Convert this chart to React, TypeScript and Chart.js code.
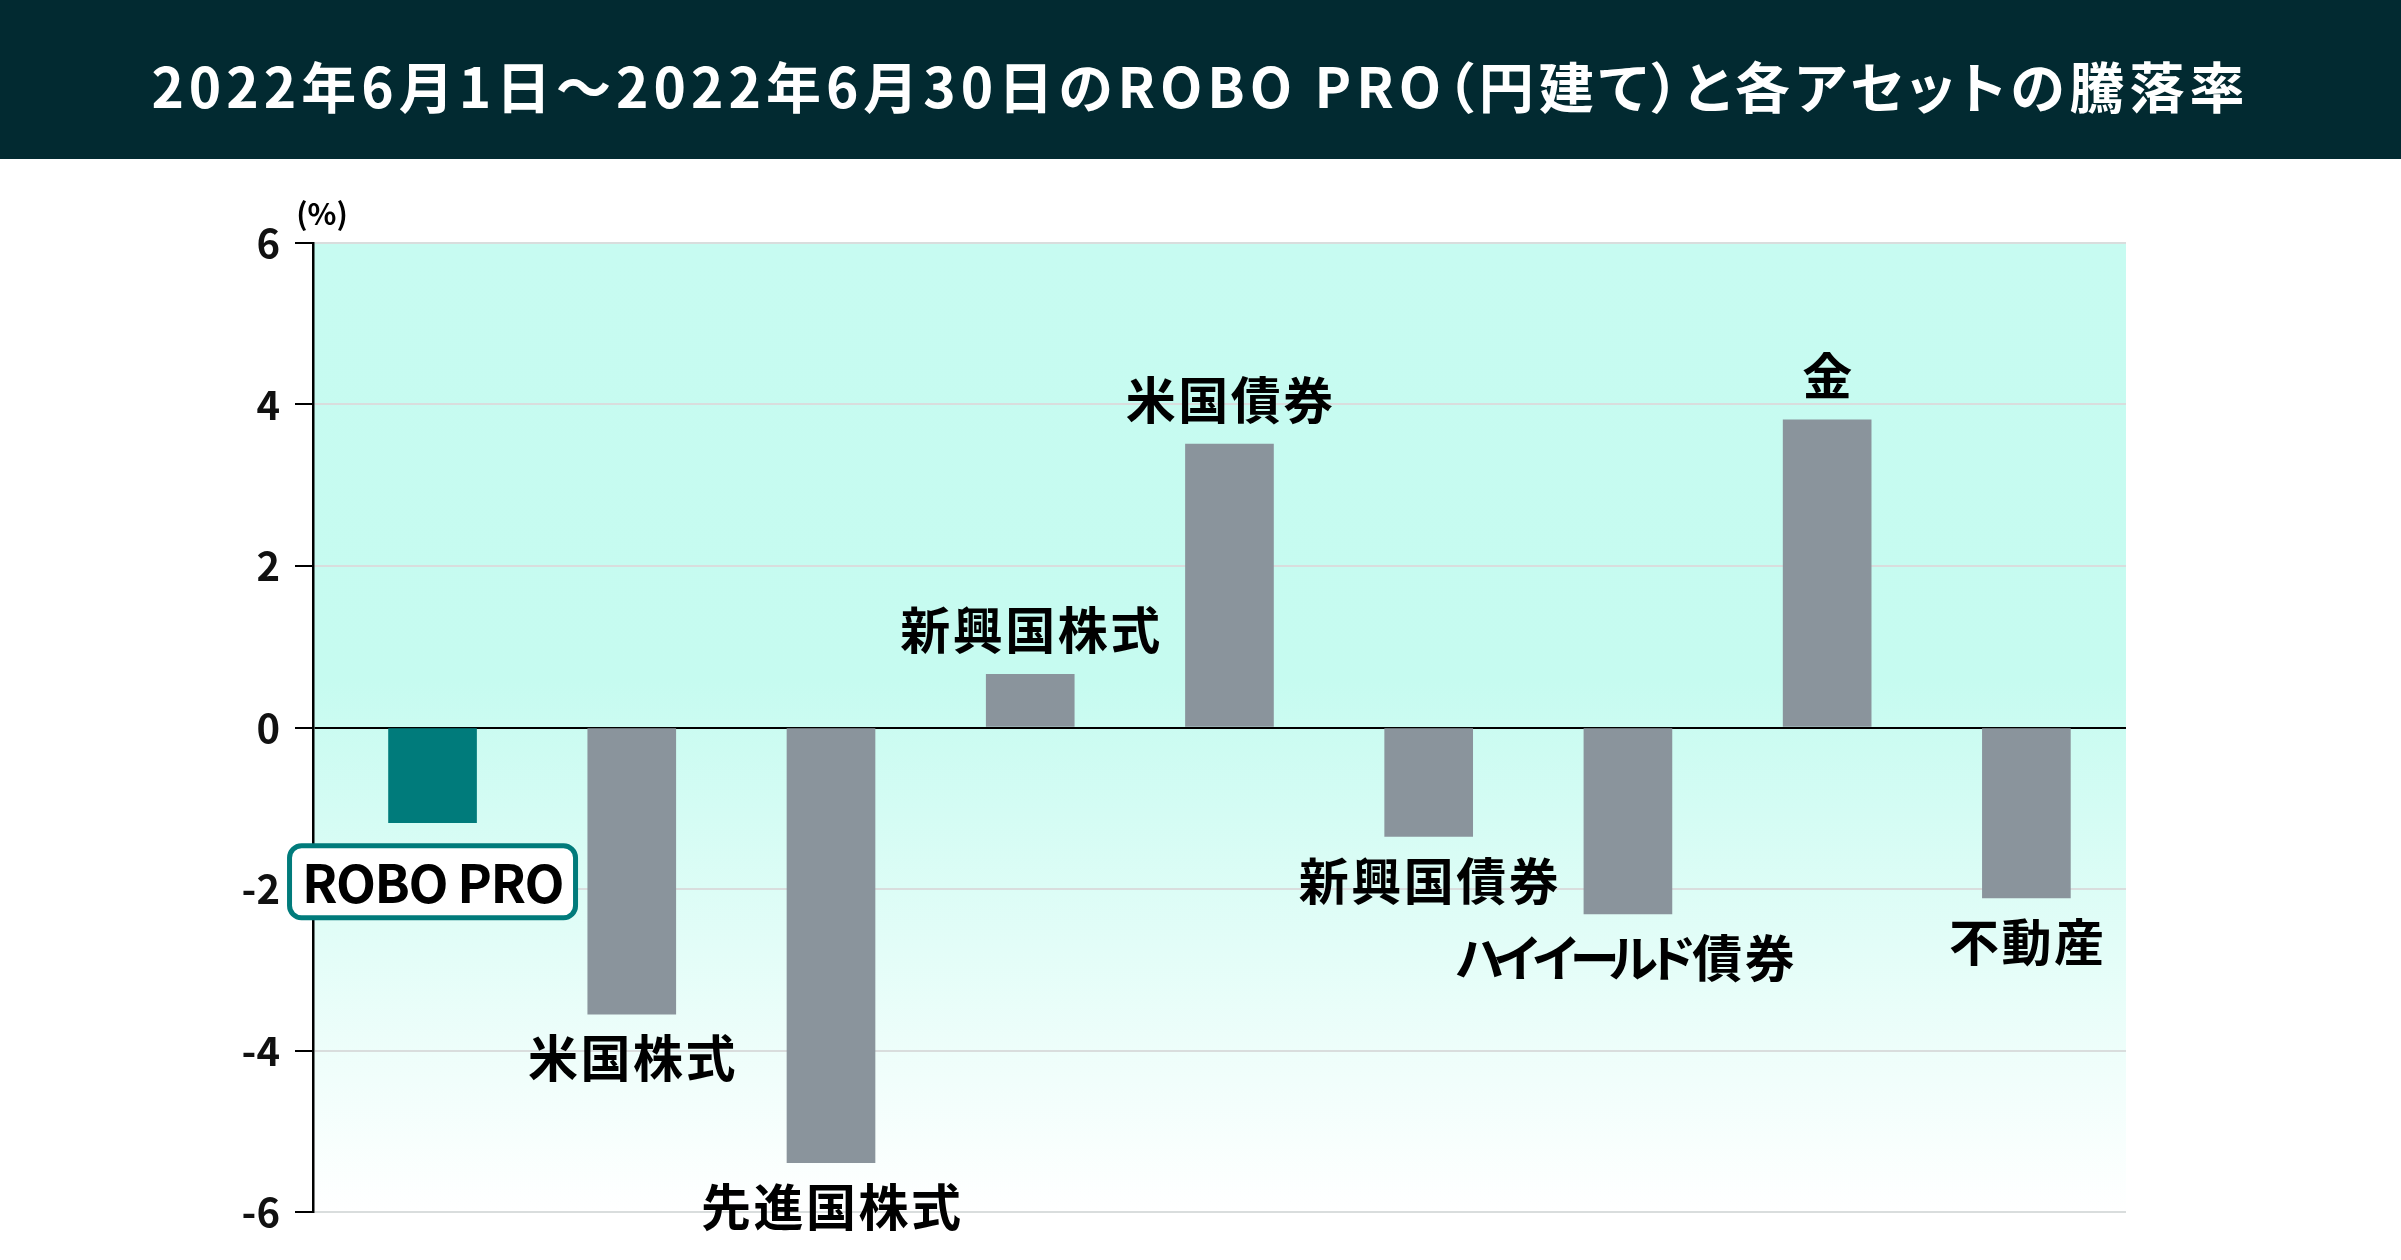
import React, { useEffect, useRef } from "react";
import { Chart, registerables } from "chart.js";

Chart.register(...registerables);

const titleText = "2022年6月1日～2022年6月30日のROBO PRO（円建て）と各アセットの騰落率";
const categories = ["ROBO PRO", "米国株式", "先進国株式", "新興国株式", "米国債券", "新興国債券", "ハイイールド債券", "金", "不動産"];
const values = [-1.18, -3.55, -5.39, 0.66, 3.51, -1.35, -2.31, 3.81, -2.11];
const yTicks = [-6, -4, -2, 0, 2, 4, 6];
const unitLabel = "(%)";

const TEAL = "#007b7b";
const GRAY = "#8a949c";
const CJK = '"Noto Sans CJK JP", "Noto Sans", sans-serif';

function isKana(ch: string) {
  const c = ch.charCodeAt(0);
  return c >= 0x30a0 && c <= 0x30ff;
}

function drawLabel(ctx: CanvasRenderingContext2D, text: string, cx: number, cy: number, size: number) {
  ctx.font = `700 ${size}px ${CJK}`;
  const chars = Array.from(text);
  const adv = chars.map((ch) => (isKana(ch) ? size * 0.77 : size * 1.05));
  const total = adv.reduce((a, b) => a + b, 0);
  let x = cx - total / 2;
  ctx.textAlign = "center";
  ctx.textBaseline = "middle";
  ctx.fillStyle = "#000";
  chars.forEach((ch, i) => {
    ctx.fillText(ch, x + adv[i] / 2, cy);
    x += adv[i];
  });
}

const bgPlugin = {
  id: "bgPlugin",
  beforeDraw(chart: any) {
    const { ctx, chartArea } = chart;
    const { left, right, top, bottom } = chartArea;
    const g = ctx.createLinearGradient(0, top, 0, bottom);
    g.addColorStop(0, "#c7fbf1");
    g.addColorStop(0.45, "#c6fbf0");
    g.addColorStop(1, "#ffffff");
    ctx.save();
    ctx.fillStyle = g;
    ctx.fillRect(left, top, right - left, bottom - top);
    ctx.restore();
  },
  afterDraw(chart: any) {
    const { ctx, chartArea } = chart;
    ctx.save();
    ctx.font = `700 30px ${CJK}`;
    ctx.fillStyle = "#000";
    ctx.textAlign = "center";
    ctx.textBaseline = "middle";
    ctx.fillText(unitLabel, chartArea.left + 9, chartArea.top - 29);

    const meta = chart.getDatasetMeta(0);
    meta.data.forEach((bar: any, i: number) => {
      const v = values[i];
      const name = categories[i];
      const endY = bar.y;
      if (i === 0) {
        const bw = 286, bh = 72;
        const cy = endY + 59;
        const bx = bar.x - bw / 2;
        const by = cy - bh / 2;
        ctx.beginPath();
        ctx.roundRect(bx, by, bw, bh, 12);
        ctx.fillStyle = "#ffffff";
        ctx.fill();
        ctx.lineWidth = 5;
        ctx.strokeStyle = TEAL;
        ctx.stroke();
        ctx.font = `700 52px ${CJK}`;
        ctx.fillStyle = "#000";
        ctx.textAlign = "center";
        ctx.textBaseline = "middle";
        (ctx as any).letterSpacing = "-1.5px";
        ctx.fillText(name, bar.x, cy + 1);
        (ctx as any).letterSpacing = "0px";
      } else {
        const cy = v >= 0 ? endY - 44 : endY + 44;
        drawLabel(ctx, name, bar.x, cy, 50);
      }
    });
    ctx.restore();
  },
};

export default function App() {
  const ref = useRef<HTMLCanvasElement | null>(null);

  useEffect(() => {
    document.body.style.margin = "0";
    const canvas = ref.current!;
    const chart = new Chart(canvas, {
      type: "bar",
      data: {
        datasets: [
          {
            data: values.map((v, i) => ({ x: i, y: v })),
            backgroundColor: values.map((_, i) => (i === 0 ? TEAL : GRAY)),
            borderWidth: 0,
            barThickness: 88,
          },
        ],
      },
      options: {
        responsive: false,
        maintainAspectRatio: false,
        animation: false,
        layout: { padding: { left: 0, top: 84, right: 275, bottom: 48 } },
        plugins: { legend: { display: false }, tooltip: { enabled: false } },
        scales: {
          x: { type: "linear", min: -0.6, max: 8.5, offset: false, display: false },
          y: {
            type: "linear",
            min: -6,
            max: 6,
            afterBuildTicks: (s: any) => {
              s.ticks = yTicks.map((v) => ({ value: v }));
            },
            afterFit: (s: any) => {
              s.width = 313;
            },
            border: { display: true, color: "#000", width: 2.5 },
            grid: {
              color: (c: any) => (c.tick && c.tick.value === 0 ? "#000" : "#d9dddd"),
              lineWidth: 2,
              tickColor: "#000",
              tickWidth: 2,
              tickLength: 18,
              drawTicks: true,
            },
            ticks: {
              padding: 15,
              color: "#111",
              font: { family: CJK, size: 40, weight: "bold" },
              callback: (v: any) => String(v),
            },
          },
        },
      },
      plugins: [bgPlugin],
    });
    return () => chart.destroy();
  }, []);

  return (
    <div style={{ position: "fixed", left: 0, top: 0, width: 2401, height: 1260, background: "#fff" }}>
      <div
        style={{
          position: "absolute",
          left: 0,
          top: 0,
          width: 2401,
          height: 159,
          background: "#022a31",
          color: "#fff",
          display: "flex",
          alignItems: "center",
          justifyContent: "center",
          fontFamily: CJK,
          fontWeight: 700,
          fontSize: 55,
          letterSpacing: "5px",
          fontFeatureSettings: '"palt"',
          paddingTop: 8,
          boxSizing: "border-box",
          whiteSpace: "nowrap",
        }}
      >
        {titleText}
      </div>
      <canvas
        ref={ref}
        width={2401}
        height={1101}
        style={{ position: "absolute", left: 0, top: 159, width: 2401, height: 1101 }}
      />
    </div>
  );
}
